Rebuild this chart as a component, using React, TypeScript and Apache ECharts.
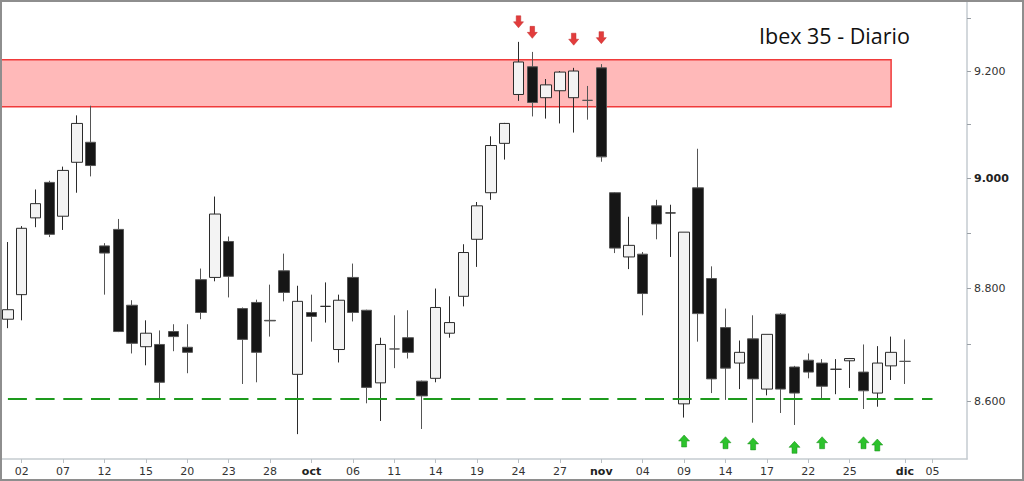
import React, { useEffect, useRef } from 'react';
import * as echarts from 'echarts';

// Trading days shown on the axis (Ibex 35, daily)
const tradingDays = [
  '2016-09-01', '2016-09-02', '2016-09-05', '2016-09-06', '2016-09-07', '2016-09-08', '2016-09-09',
  '2016-09-12', '2016-09-13', '2016-09-14', '2016-09-15', '2016-09-16', '2016-09-19', '2016-09-20',
  '2016-09-21', '2016-09-22', '2016-09-23', '2016-09-26', '2016-09-27', '2016-09-28', '2016-09-29',
  '2016-09-30', '2016-10-03', '2016-10-04', '2016-10-05', '2016-10-06', '2016-10-07', '2016-10-10',
  '2016-10-11', '2016-10-12', '2016-10-13', '2016-10-14', '2016-10-17', '2016-10-18', '2016-10-19',
  '2016-10-20', '2016-10-21', '2016-10-24', '2016-10-25', '2016-10-26', '2016-10-27', '2016-10-28',
  '2016-10-31', '2016-11-01', '2016-11-02', '2016-11-03', '2016-11-04', '2016-11-07', '2016-11-08',
  '2016-11-09', '2016-11-10', '2016-11-11', '2016-11-14', '2016-11-15', '2016-11-16', '2016-11-17',
  '2016-11-18', '2016-11-21', '2016-11-22', '2016-11-23', '2016-11-24', '2016-11-25', '2016-11-28',
  '2016-11-29', '2016-11-30', '2016-12-01',
];
const emptyAxisDays = ['2016-12-02', '2016-12-05', '2016-12-06', '2016-12-07'];

const openPrices = [
  8745, 8789, 8928, 8993, 8931, 9030, 9067, 8877, 8907, 8770, 8696, 8700, 8723, 8695, 8816, 8820,
  8885, 8764, 8775, 8743, 8832, 8647, 8757, 8768, 8691, 8820, 8761, 8632, 8692, 8712, 8635, 8640,
  8720, 8786, 8889, 8974, 9065, 9156, 9208, 9150, 9163, 9150, 9145, 9206, 8974, 8857, 8862, 8950,
  8937, 8595, 8983, 8818, 8730, 8667, 8710, 8621, 8754, 8660, 8672, 8667, 8656, 8671, 8651, 8614,
  8662, 8670,
];
const closePrices = [
  8762, 8909, 8954, 8898, 9015, 9102, 9024, 8864, 8723, 8702, 8720, 8633, 8714, 8686, 8757, 8935,
  8822, 8709, 8686, 8742, 8793, 8777, 8750, 8768, 8779, 8757, 8624, 8700, 8692, 8686, 8609, 8766,
  8739, 8865, 8950, 9061, 9102, 9217, 9141, 9174, 9198, 9200, 9145, 9040, 8873, 8878, 8791, 8917,
  8937, 8902, 8755, 8639, 8658, 8686, 8639, 8718, 8621, 8614, 8651, 8626, 8656, 8675, 8618, 8667,
  8686, 8670,
];
const lowPrices = [
  8729, 8743, 8911, 8893, 8906, 8974, 9004, 8789, 8722, 8684, 8663, 8604, 8688, 8649, 8745, 8813,
  8784, 8630, 8633, 8714, 8777, 8542, 8705, 8739, 8668, 8741, 8596, 8565, 8658, 8675, 8551, 8633,
  8712, 8768, 8839, 8961, 9035, 9144, 9115, 9111, 9102, 9085, 9109, 9031, 8864, 8835, 8752, 8889,
  8857, 8571, 8705, 8614, 8602, 8621, 8562, 8610, 8579, 8558, 8640, 8604, 8612, 8623, 8586, 8590,
  8637, 8630,
];
const highPrices = [
  8884, 8913, 8980, 8996, 9022, 9117, 9135, 8882, 8926, 8779, 8743, 8725, 8736, 8736, 8836, 8967,
  8894, 8766, 8780, 8807, 8863, 8805, 8789, 8811, 8789, 8845, 8762, 8712, 8752, 8761, 8636, 8800,
  8786, 8880, 8957, 9078, 9103, 9255, 9236, 9185, 9200, 9206, 9172, 9213, 8975, 8930, 8866, 8961,
  8952, 8902, 9055, 8840, 8764, 8707, 8752, 8718, 8756, 8662, 8684, 8674, 8674, 8676, 8700, 8697,
  8714, 8709,
];

// X axis tick labels
const tickDates = [
  '2016-09-02', '2016-09-07', '2016-09-12', '2016-09-15', '2016-09-20', '2016-09-23', '2016-09-28',
  '2016-10-03', '2016-10-06', '2016-10-11', '2016-10-14', '2016-10-19', '2016-10-24', '2016-10-27',
  '2016-11-01', '2016-11-04', '2016-11-09', '2016-11-14', '2016-11-17', '2016-11-22', '2016-11-25',
  '2016-12-01', '2016-12-05',
];
const tickLabels = [
  '02', '07', '12', '15', '20', '23', '28', 'oct', '06', '11', '14', '19', '24', '27',
  'nov', '04', '09', '14', '17', '22', '25', 'dic', '05',
];
const monthLabels = ['oct', 'nov', 'dic'];

// Y axis ticks / labels
const yTickValues = [8600, 8700, 8800, 8900, 9000, 9100, 9200, 9300];
const yLabelValues = [8600, 8800, 9000, 9200];
const yBoldValues = [9000];
const yMin = 8498.7;
const yMax = 9330.7;

// Annotations
const resistanceZone = [9133, 9221];
const resistanceEndDate = '2016-11-30';
const supportLevel = 8604;
const supportStartDate = '2016-09-01';
const supportEndDate = '2016-12-05';
const sellArrowDates = ['2016-10-24', '2016-10-25', '2016-10-28', '2016-11-01'];
const sellArrowLevels = [9293, 9273, 9260, 9263];
const buyArrowDates = ['2016-11-09', '2016-11-14', '2016-11-16', '2016-11-21', '2016-11-23', '2016-11-28', '2016-11-29'];
const buyArrowLevels = [8530, 8527, 8525, 8519, 8527, 8527, 8523];

const chartTitle = 'Ibex 35 - Diario';

const allAxisDays = [...tradingDays, ...emptyAxisDays];
const dayIndex = (d: string) => allAxisDays.indexOf(d);

const fmtThousands = (v: number) => {
  const n = Math.round(v);
  const s = String(n);
  return s.length > 3 ? s.slice(0, s.length - 3) + '.' + s.slice(s.length - 3) : s;
};

export default function App() {
  const ref = useRef<HTMLDivElement>(null);

  useEffect(() => {
    if (!ref.current) return;
    const chart = echarts.init(ref.current, null, { renderer: 'svg' });

    const tickIdx = tickDates.map(dayIndex);
    const labelByIdx: Record<number, string> = {};
    tickIdx.forEach((ix, k) => { labelByIdx[ix] = tickLabels[k]; });

    const candleData = tradingDays.map((d, i) => [
      dayIndex(d), openPrices[i], closePrices[i], lowPrices[i], highPrices[i],
    ]);
    const sellData = sellArrowDates.map((d, i) => [dayIndex(d), sellArrowLevels[i]]);
    const buyData = buyArrowDates.map((d, i) => [dayIndex(d), buyArrowLevels[i]]);

    const font = 'DejaVu Sans';

    const option: any = {
      animation: false,
      title: {
        text: chartTitle,
        left: 759,
        top: 24,
        padding: 0,
        textStyle: { fontFamily: 'Open Sans', fontSize: 21.5, fontWeight: 'normal', color: '#111' },
      },
      grid: { left: 1, right: 57, top: 2, bottom: 22 },
      xAxis: {
        type: 'value',
        min: -0.5,
        max: allAxisDays.length - 0.5,
        splitLine: { show: false },
        axisLine: { show: true, onZero: false, lineStyle: { color: '#c5cbd0', width: 1.5 } },
        axisTick: { show: true, length: 4, customValues: tickIdx, lineStyle: { color: '#b9bfc4' } },
        axisLabel: {
          customValues: tickIdx,
          margin: 7,
          fontFamily: font,
          fontSize: 11,
          color: '#333',
          formatter: (v: number) => {
            const t = labelByIdx[Math.round(v)] ?? '';
            return monthLabels.includes(t) ? '{b|' + t + '}' : t;
          },
          rich: { b: { fontFamily: font, fontSize: 11, fontWeight: 'bold', color: '#222' } },
        },
      },
      yAxis: {
        type: 'log',
        logBase: 10,
        position: 'right',
        min: yMin,
        max: yMax,
        splitLine: { show: false },
        axisLine: { show: true, onZero: false, lineStyle: { color: '#c5cbd0', width: 1.5 } },
        axisTick: { show: true, length: 4, customValues: yTickValues, lineStyle: { color: '#9aa0a6' } },
        axisLabel: {
          customValues: yLabelValues,
          margin: 7,
          fontFamily: font,
          fontSize: 11,
          color: '#333',
          formatter: (v: number) => {
            const s = fmtThousands(v);
            return yBoldValues.includes(Math.round(v)) ? '{b|' + s + '}' : s;
          },
          rich: { b: { fontFamily: font, fontSize: 11, fontWeight: 'bold', color: '#222' } },
        },
      },
      series: [
        {
          type: 'candlestick',
          z: 3,
          barWidth: 11,
          data: candleData,
          encode: { x: 0, y: [1, 2, 3, 4] },
          itemStyle: {
            color: '#f3f3f3',
            color0: '#161616',
            borderColor: '#2b2b2b',
            borderColor0: '#555555',
            borderWidth: 1,
          },
          markArea: {
            silent: true,
            itemStyle: { color: '#ffb9b9', borderColor: '#f03a3a', borderWidth: 1.5 },
            data: [[
              { coord: [-0.5, resistanceZone[1]] },
              { coord: [dayIndex(resistanceEndDate), resistanceZone[0]] },
            ]],
          },
          markLine: {
            silent: true,
            symbol: ['none', 'none'],
            label: { show: false },
            lineStyle: { color: '#1d9a1d', width: 2, type: [19, 8.7] },
            data: [[
              { coord: [dayIndex(supportStartDate), supportLevel] },
              { coord: [dayIndex(supportEndDate), supportLevel] },
            ]],
          },
        },
        {
          type: 'scatter',
          z: 4,
          data: sellData,
          symbol: 'path://M3,0L8,0L8,6L11,6L5.5,12L0,6L3,6Z',
          symbolSize: [10, 12],
          itemStyle: { color: '#e23c3c', borderColor: '#c42828', borderWidth: 0.5, opacity: 1 },
        },
        {
          type: 'scatter',
          z: 4,
          data: buyData,
          symbol: 'path://M5.5,0L11,6L8,6L8,12L3,12L3,6L0,6Z',
          symbolSize: [11, 12],
          itemStyle: { color: '#2cc22c', borderColor: '#148c14', borderWidth: 0.5, opacity: 1 },
        },
      ],
      graphic: [
        {
          type: 'rect',
          z: 100,
          silent: true,
          shape: { x: 1, y: 1, width: 1022, height: 479 },
          style: { fill: 'none', stroke: '#8e8e8e', lineWidth: 2 },
        },
      ],
    };

    chart.setOption(option);
    return () => chart.dispose();
  }, []);

  return (
    <div
      ref={ref}
      style={{ position: 'fixed', left: 0, top: 0, width: 1024, height: 481, background: '#fff' }}
    />
  );
}
